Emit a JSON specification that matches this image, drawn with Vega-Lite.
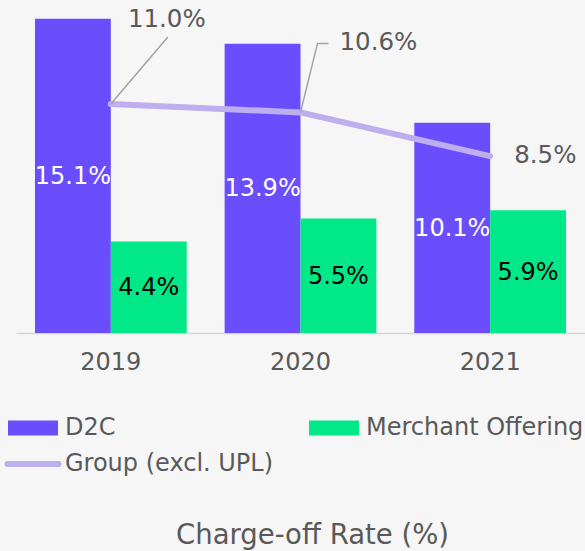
{
  "$schema": "https://vega.github.io/schema/vega-lite/v6.json",
  "width": 569,
  "height": 333,
  "autosize": {"type": "none"},
  "padding": {"left": 16, "top": 0, "right": 0, "bottom": 218},
  "background": "#f6f6f6",
  "config": {"view": {"stroke": null}, "font": "DejaVu Sans"},
  "title": {"text": "Charge-off Rate (%)", "orient": "bottom", "anchor": "middle", "fontSize": 27.5, "fontWeight": "normal", "color": "#595959", "font": "DejaVu Sans", "offset": 46, "dx": 12},
  "datasets": {
    "bars": [
      {"year": "2019", "series": "D2C", "rate": 0.151},
      {"year": "2019", "series": "Merchant Offering", "rate": 0.044},
      {"year": "2020", "series": "D2C", "rate": 0.139},
      {"year": "2020", "series": "Merchant Offering", "rate": 0.055},
      {"year": "2021", "series": "D2C", "rate": 0.101},
      {"year": "2021", "series": "Merchant Offering", "rate": 0.059}
    ],
    "group": [
      {"year": "2019", "rate": 0.110},
      {"year": "2020", "rate": 0.106},
      {"year": "2021", "rate": 0.085}
    ]
  },
  "resolve": {"scale": {"y": "independent"}},
  "layer": [
    {
      "data": {"name": "bars"},
      "mark": {"type": "bar"},
      "encoding": {
        "x": {"field": "year", "type": "nominal", "scale": {"paddingInner": 0, "paddingOuter": 0},
          "axis": {"title": null, "labelAngle": 0, "ticks": false, "grid": false, "domainColor": "#d6d6d6", "domainWidth": 1.5, "labelFontSize": 24, "labelColor": "#595959", "labelFont": "DejaVu Sans", "labelPadding": 17}},
        "xOffset": {"field": "series", "type": "nominal", "scale": {"paddingInner": 0, "paddingOuter": 0.25}},
        "y": {"field": "rate", "type": "quantitative", "scale": {"domain": [0, 0.16]}, "axis": null},
        "color": {"field": "series", "type": "nominal",
          "scale": {"domain": ["D2C", "Merchant Offering", "Group (excl. UPL)"], "range": ["#6a4dfc", "#00e887", "#bdaeee"]},
          "legend": {
            "values": ["D2C", "Merchant Offering", "Group (excl. UPL)"],
            "orient": "none", "direction": "horizontal", "legendX": 5, "legendY": 416, "columns": 2, "columnPadding": 34, "rowPadding": 12,
            "title": null, "padding": 0, "labelFontSize": 24, "labelColor": "#595959", "labelFont": "DejaVu Sans",
            "labelOffset": 20, "labelLimit": 400, "symbolSize": 900,
            "encode": {"symbols": {"update": {
              "shape": {"signal": "datum.value === 'Group (excl. UPL)' ? 'M-1.7,0H1.7' : 'M-1.667,-0.5H1.667V0.5H-1.667Z'"},
              "fill": {"signal": "datum.value === 'Group (excl. UPL)' ? 'transparent' : scale('color', datum.value)"},
              "stroke": {"signal": "datum.value === 'Group (excl. UPL)' ? scale('color', datum.value) : 'transparent'"},
              "strokeWidth": {"signal": "datum.value === 'Group (excl. UPL)' ? 6 : 0"},
              "strokeCap": {"value": "round"},
              "size": {"value": 900},
              "opacity": {"value": 1}
            }}}
          }}
      }
    },
    {
      "data": {"name": "bars"},
      "mark": {"type": "text", "fontSize": 24, "font": "DejaVu Sans", "baseline": "middle", "align": "center", "dy": 1},
      "encoding": {
        "x": {"field": "year", "type": "nominal"},
        "xOffset": {"field": "series", "type": "nominal"},
        "y": {"field": "rate", "type": "quantitative", "scale": {"domain": [0, 0.32]}, "axis": null},
        "text": {"field": "rate", "type": "quantitative", "format": ".1%"},
        "fill": {"condition": {"test": "datum.series === 'D2C'", "value": "#ffffff"}, "value": "#000000"}
      }
    },
    {
      "data": {"name": "group"},
      "mark": {"type": "line", "strokeWidth": 6, "strokeCap": "round", "strokeJoin": "round"},
      "encoding": {
        "x": {"field": "year", "type": "nominal"},
        "y": {"field": "rate", "type": "quantitative", "scale": {"domain": [0, 0.16]}, "axis": null},
        "color": {"datum": "Group (excl. UPL)"}
      }
    },
    {
      "data": {"name": "group"},
      "transform": [{"filter": "datum.year === '2019'"}],
      "mark": {"type": "point", "shape": "M0,0L0.57,-0.67", "size": 40000, "filled": false, "stroke": "#a3a3a3", "strokeWidth": 1.5, "opacity": 1},
      "encoding": {
        "x": {"field": "year", "type": "nominal"},
        "y": {"field": "rate", "type": "quantitative", "scale": {"domain": [0, 0.16]}, "axis": null}
      }
    },
    {
      "data": {"name": "group"},
      "transform": [{"filter": "datum.year === '2020'"}],
      "mark": {"type": "point", "shape": "M0,0L0.17,-0.69L0.28,-0.69", "size": 40000, "filled": false, "stroke": "#a3a3a3", "strokeWidth": 1.5, "opacity": 1},
      "encoding": {
        "x": {"field": "year", "type": "nominal"},
        "y": {"field": "rate", "type": "quantitative", "scale": {"domain": [0, 0.16]}, "axis": null}
      }
    },
    {
      "data": {"name": "group"},
      "transform": [{"filter": "datum.year === '2019'"}],
      "mark": {"type": "text", "fontSize": 24.5, "font": "DejaVu Sans", "color": "#595959", "align": "center", "baseline": "middle", "dx": 56, "dy": -84},
      "encoding": {
        "x": {"field": "year", "type": "nominal"},
        "y": {"field": "rate", "type": "quantitative", "scale": {"domain": [0, 0.16]}, "axis": null},
        "text": {"field": "rate", "type": "quantitative", "format": ".1%"}
      }
    },
    {
      "data": {"name": "group"},
      "transform": [{"filter": "datum.year === '2020'"}],
      "mark": {"type": "text", "fontSize": 24.5, "font": "DejaVu Sans", "color": "#595959", "align": "left", "baseline": "middle", "dx": 39, "dy": -69},
      "encoding": {
        "x": {"field": "year", "type": "nominal"},
        "y": {"field": "rate", "type": "quantitative", "scale": {"domain": [0, 0.16]}, "axis": null},
        "text": {"field": "rate", "type": "quantitative", "format": ".1%"}
      }
    },
    {
      "data": {"name": "group"},
      "transform": [{"filter": "datum.year === '2021'"}],
      "mark": {"type": "text", "fontSize": 24.5, "font": "DejaVu Sans", "color": "#595959", "align": "left", "baseline": "middle", "dx": 24, "dy": 0},
      "encoding": {
        "x": {"field": "year", "type": "nominal"},
        "y": {"field": "rate", "type": "quantitative", "scale": {"domain": [0, 0.16]}, "axis": null},
        "text": {"field": "rate", "type": "quantitative", "format": ".1%"}
      }
    }
  ]
}
